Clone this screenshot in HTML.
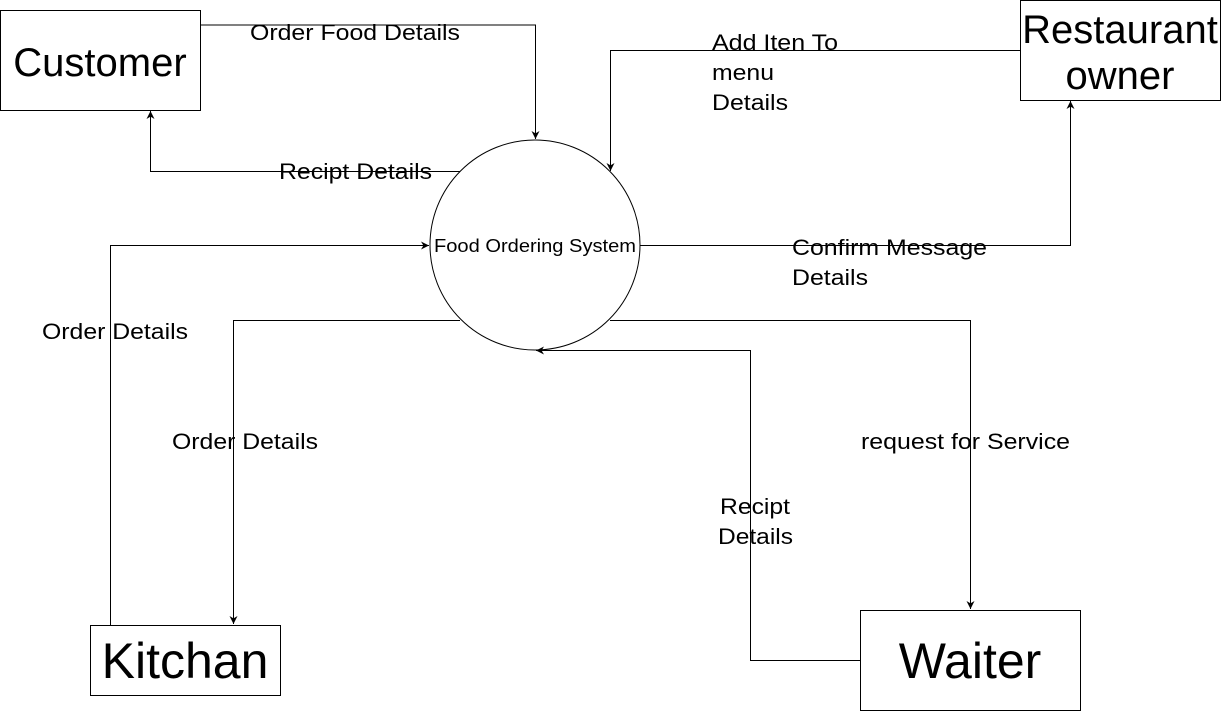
<!DOCTYPE html>
<html><head><meta charset="utf-8"><style>
html,body{margin:0;padding:0;background:#fff;}
svg{display:block;font-family:"Liberation Sans",Arial,sans-serif;}
</style></head><body>
<svg width="1221" height="711" viewBox="0 0 1221 711" xmlns="http://www.w3.org/2000/svg">
<defs>
<marker id="a" viewBox="0 0 10 10" refX="10" refY="5" markerWidth="8" markerHeight="8" orient="auto-start-reverse" markerUnits="userSpaceOnUse">
<path d="M0,0 L10,5 L0,10 L3,5 z" fill="#000"/>
</marker>
</defs>
<g fill="none" stroke="#000" stroke-width="1">
<rect x="0.5" y="10.5" width="200" height="100"/>
<rect x="1020.5" y="0.5" width="200" height="100"/>
<rect x="90.5" y="625.5" width="190" height="70"/>
<rect x="860.5" y="610.5" width="220" height="100"/>
<circle cx="535" cy="245" r="105"/>
<polyline points="200,25 535.5,25 535.5,139" marker-end="url(#a)"/>
<polyline points="460,171.5 150.5,171.5 150.5,111" marker-end="url(#a)"/>
<polyline points="1020,50.5 610.5,50.5 610.5,171" marker-end="url(#a)"/>
<polyline points="640,245.5 1070.5,245.5 1070.5,101" marker-end="url(#a)"/>
<polyline points="110.5,625 110.5,245.5 429,245.5" marker-end="url(#a)"/>
<polyline points="460,320.5 233.5,320.5 233.5,624" marker-end="url(#a)"/>
<polyline points="610,320.5 970.5,320.5 970.5,609" marker-end="url(#a)"/>
<polyline points="860,660.5 750.5,660.5 750.5,350.5 536,350.5" marker-end="url(#a)"/>
</g>
<g fill="#000" font-size="22">
<text x="100" y="76" font-size="40" text-anchor="middle">Customer</text>
<text x="1120" y="43" font-size="40" text-anchor="middle">Restaurant</text>
<text x="1120" y="89" font-size="40" text-anchor="middle">owner</text>
<text x="185" y="678" font-size="50" text-anchor="middle">Kitchan</text>
<text x="970" y="678" font-size="50" text-anchor="middle">Waiter</text>
<text x="434" y="252" font-size="18" textLength="202" lengthAdjust="spacingAndGlyphs">Food Ordering System</text>
<text x="250" y="40" textLength="210" lengthAdjust="spacingAndGlyphs">Order Food Details</text>
<text x="279" y="179" textLength="153" lengthAdjust="spacingAndGlyphs">Recipt Details</text>
<text x="712" y="50" textLength="126" lengthAdjust="spacingAndGlyphs">Add Iten To</text>
<text x="712" y="80" textLength="62" lengthAdjust="spacingAndGlyphs">menu</text>
<text x="712" y="110" textLength="76" lengthAdjust="spacingAndGlyphs">Details</text>
<text x="792" y="255" textLength="195" lengthAdjust="spacingAndGlyphs">Confirm Message</text>
<text x="792" y="285" textLength="76" lengthAdjust="spacingAndGlyphs">Details</text>
<text x="42" y="339" textLength="146" lengthAdjust="spacingAndGlyphs">Order Details</text>
<text x="172" y="449" textLength="146" lengthAdjust="spacingAndGlyphs">Order Details</text>
<text x="861" y="449" textLength="209" lengthAdjust="spacingAndGlyphs">request for Service</text>
<text x="720" y="514" textLength="70" lengthAdjust="spacingAndGlyphs">Recipt</text>
<text x="718" y="544" textLength="75" lengthAdjust="spacingAndGlyphs">Details</text>
</g>
</svg>
</body></html>
